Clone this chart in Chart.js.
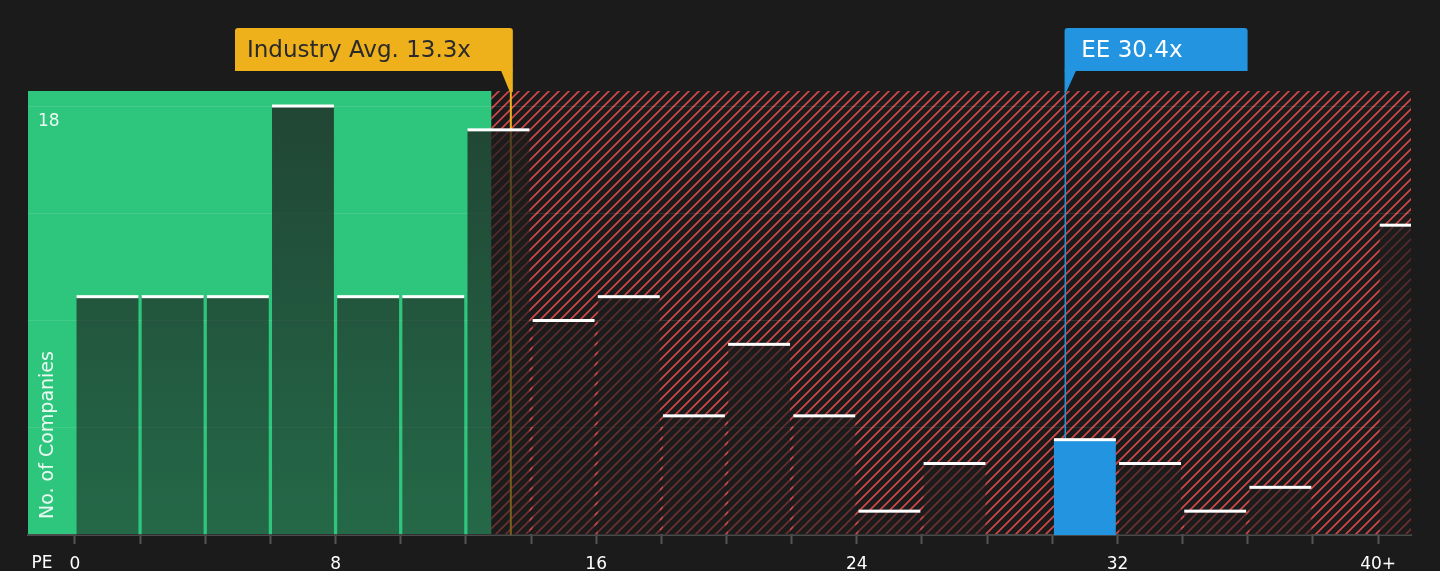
<!DOCTYPE html>
<html lang="en">
  <head>
    <meta charset="UTF-8" />
    <title>PE Ratio Distribution</title>
    <script src="https://cdn.jsdelivr.net/npm/chart.js"></script>
    <style>
      html, body { margin: 0; padding: 0; background: #1b1b1b; }
    </style>
  </head>
  <body>
    <div style="width: 1440px; height: 571px">
      <canvas id="peChart"></canvas>
    </div>
    <script>
      // histogram bins (PE, width 2) and company counts
      const binStarts = [0, 2, 4, 6, 8, 10, 12, 14, 16, 18, 20, 22, 24, 26, 28, 30, 32, 34, 36, 38, 40];
      const counts = [10, 10, 10, 18, 10, 10, 17, 9, 10, 5, 8, 5, 1, 3, 0, 4, 3, 1, 2, 0, 13];
      const xTickValues = [0, 2, 4, 6, 8, 10, 12, 14, 16, 18, 20, 22, 24, 26, 28, 30, 32, 34, 36, 38, 40];
      const xTickLabels = { 0: "0", 8: "8", 16: "16", 24: "24", 32: "32", 40: "40+" };
      const yTickValues = [4.5, 9, 13.5, 18];
      const yTickLabels = { 18: "18" };

      // reference markers
      const industryAvg = 13.38;
      const industryLabel = "Industry Avg. 13.3x";
      const companyPE = 30.4;
      const companyLabel = "EE 30.4x";
      const fairLimit = 12.78; // end of the green zone
      const companyBin = 15; // index of the 30-32 bin

      const FONT = "'DejaVu Sans', sans-serif";

      // red diagonal hatch
      const tile = document.createElement("canvas");
      tile.width = 10;
      tile.height = 10;
      const tc = tile.getContext("2d");
      tc.strokeStyle = "#d04749";
      tc.lineWidth = 1.7;
      tc.beginPath();
      tc.moveTo(-1, 11); tc.lineTo(11, -1);
      tc.moveTo(-6, 6); tc.lineTo(6, -6);
      tc.moveTo(4, 16); tc.lineTo(16, 4);
      tc.stroke();

      const ctx = document.getElementById("peChart").getContext("2d");
      const hatch = ctx.createPattern(tile, "repeat");

      const backdrop = {
        id: "backdrop",
        beforeDraw(chart) {
          const { ctx, chartArea: a, scales: { x } } = chart;
          ctx.save();
          ctx.fillStyle = "#1b1b1b";
          ctx.fillRect(0, 0, chart.width, chart.height);
          const split = x.getPixelForValue(fairLimit);
          ctx.fillStyle = "#2ec67d";
          ctx.fillRect(a.left, a.top, split - a.left, a.bottom - a.top);
          ctx.fillStyle = hatch;
          ctx.fillRect(split, a.top, a.right - split, a.bottom - a.top);
          ctx.restore();
        },
        beforeDatasetsDraw(chart) {
          const { ctx, chartArea: a, scales: { x } } = chart;
          ctx.save();
          let px = x.getPixelForValue(industryAvg);
          ctx.strokeStyle = "#f0b21c";
          ctx.lineWidth = 2;
          ctx.beginPath(); ctx.moveTo(px, a.top); ctx.lineTo(px, a.bottom); ctx.stroke();
          px = x.getPixelForValue(companyPE);
          ctx.strokeStyle = "#2394e0";
          ctx.lineWidth = 1.5;
          ctx.beginPath(); ctx.moveTo(px, a.top); ctx.lineTo(px, a.bottom); ctx.stroke();
          ctx.restore();
        },
        afterDatasetsDraw(chart) {
          const { ctx, chartArea: a, scales: { x } } = chart;
          const meta = chart.getDatasetMeta(0);
          ctx.save();
          // white caps on bars
          ctx.fillStyle = "#ffffff";
          meta.data.forEach((bar, i) => {
            if (!counts[i]) return;
            const l = bar.x - bar.width / 2;
            const r = Math.min(bar.x + bar.width / 2, a.right);
            ctx.fillRect(l, bar.y - 1.5, r - l, 3);
          });

          // y axis title inside plot
          ctx.fillStyle = "rgba(255,255,255,0.9)";
          ctx.font = "19px " + FONT;
          ctx.textAlign = "left";
          ctx.textBaseline = "middle";
          ctx.translate(a.left + 20, a.bottom - 16);
          ctx.rotate(-Math.PI / 2);
          ctx.fillText("No. of Companies", 0, 0);
          ctx.restore();

          ctx.save();
          ctx.fillStyle = "#ffffff";
          ctx.font = "17px " + FONT;
          ctx.textAlign = "center";
          ctx.textBaseline = "middle";
          ctx.fillText("PE", 42, 564);

          // industry average callout
          const ix = x.getPixelForValue(industryAvg);
          ctx.fillStyle = "#eeb11c";
          roundRect(ctx, 235, 28, ix + 2 - 235, 43, 3);
          ctx.beginPath();
          ctx.moveTo(ix - 10, 70); ctx.lineTo(ix + 2, 70); ctx.lineTo(ix + 2, a.top + 1); ctx.lineTo(ix - 1, a.top + 1);
          ctx.closePath(); ctx.fill();
          ctx.fillStyle = "#2a2a2a";
          ctx.font = "23px " + FONT;
          ctx.textAlign = "left";
          ctx.fillText(industryLabel, 247, 51);

          // company callout
          const cx = x.getPixelForValue(companyPE);
          ctx.fillStyle = "#2394e0";
          roundRect(ctx, cx - 0.75, 28, 183, 43, 3);
          ctx.beginPath();
          ctx.moveTo(cx - 0.75, 70); ctx.lineTo(cx + 11, 70); ctx.lineTo(cx + 1, a.top + 1); ctx.lineTo(cx - 0.75, a.top + 1);
          ctx.closePath(); ctx.fill();
          ctx.fillStyle = "#ffffff";
          ctx.fillText(companyLabel, cx + 16, 51);
          ctx.restore();
        },
      };

      function roundRect(c, x, y, w, h, r) {
        c.beginPath();
        c.moveTo(x + r, y);
        c.lineTo(x + w - r, y);
        c.quadraticCurveTo(x + w, y, x + w, y + r);
        c.lineTo(x + w, y + h);
        c.lineTo(x, y + h);
        c.lineTo(x, y + r);
        c.quadraticCurveTo(x, y, x + r, y);
        c.closePath();
        c.fill();
      }

      const peChart = new Chart(ctx, {
        type: "bar",
        data: {
          datasets: [
            {
              data: binStarts.map((s, i) => ({ x: s + 1, y: counts[i] })),
              backgroundColor: (c) => {
                if (c.dataIndex === companyBin) return "#2394e0";
                const a = c.chart.chartArea;
                if (!a) return "rgba(28,28,28,0.65)";
                const g = c.chart.ctx.createLinearGradient(0, a.top, 0, a.bottom);
                g.addColorStop(0, "rgba(28,28,28,0.76)");
                g.addColorStop(1, "rgba(28,28,28,0.55)");
                return g;
              },
              borderWidth: 0,
              barPercentage: 0.95,
              categoryPercentage: 1,
            },
          ],
        },
        options: {
          responsive: true,
          maintainAspectRatio: false,
          animation: false,
          layout: { padding: { left: 28, right: 29, top: 91, bottom: 0 } },
          plugins: { legend: { display: false }, tooltip: { enabled: false } },
          scales: {
            x: {
              type: "linear",
              offset: false,
              min: -1.44,
              max: 41.01,
              afterBuildTicks: (s) => { s.ticks = xTickValues.map((v) => ({ value: v })); },
              afterFit: (s) => { s.height = 36; },
              ticks: {
                autoSkip: false,
                maxRotation: 0,
                color: "#ffffff",
                font: { family: FONT, size: 17 },
                padding: 10,
                callback: (v) => xTickLabels[v] || "",
              },
              grid: { offset: false, drawOnChartArea: false, drawTicks: true, tickLength: 9, tickColor: "#555555", tickWidth: 2 },
              border: { color: "#4a4a4a", width: 2 },
            },
            y: {
              min: 0,
              max: 18.63,
              afterBuildTicks: (s) => { s.ticks = yTickValues.map((v) => ({ value: v })); },
              afterFit: (s) => { s.width = 0; },
              ticks: {
                mirror: true,
                padding: 10,
                labelOffset: 16,
                color: "rgba(255,255,255,0.9)",
                font: { family: FONT, size: 17 },
                callback: (v) => yTickLabels[v] || "",
              },
              grid: { color: "rgba(255,255,255,0.1)", drawTicks: false },
              border: { display: false },
            },
          },
        },
        plugins: [backdrop],
      });
    </script>
  </body>
</html>
